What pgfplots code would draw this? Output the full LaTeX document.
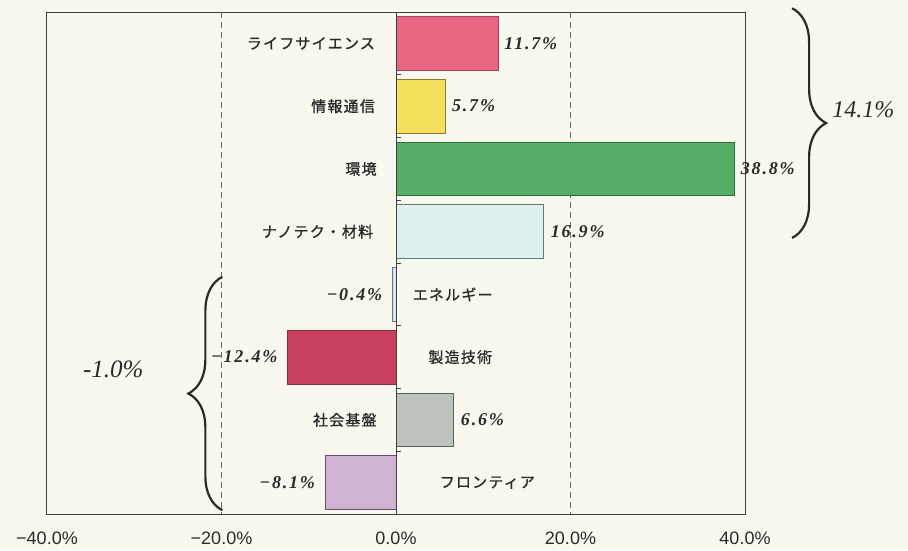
\documentclass[border=0pt]{standalone}
\usepackage{pgfplots}
\pgfplotsset{compat=1.18}
\usepackage{fontspec}
\setmainfont{Liberation Sans}
\newfontfamily\jp{Noto Sans CJK JP}[LetterSpace=8, FakeBold=1]
\newfontfamily\vf{Liberation Serif}[LetterSpace=10]
\newfontfamily\bigf{Liberation Serif}
\usetikzlibrary{decorations.pathreplacing}
\definecolor{bg}{HTML}{F9F8EF}
\definecolor{c1}{HTML}{E96683}\definecolor{e1}{HTML}{A8445A}
\definecolor{c2}{HTML}{F4E05C}\definecolor{e2}{HTML}{8C7C2C}
\definecolor{c3}{HTML}{56AD66}\definecolor{e3}{HTML}{2F6E3C}
\definecolor{c4}{HTML}{DDF1EE}\definecolor{e4}{HTML}{5E7C74}
\definecolor{c5}{HTML}{D8E6EE}\definecolor{e5}{HTML}{60778A}
\definecolor{c6}{HTML}{C93F5F}\definecolor{e6}{HTML}{8E2A40}
\definecolor{c7}{HTML}{BBC3BC}\definecolor{e7}{HTML}{5C665E}
\definecolor{c8}{HTML}{CFB3D2}\definecolor{e8}{HTML}{6A4F6C}
\definecolor{ink}{HTML}{2A2A2A}
\begin{document}
\begin{tikzpicture}
\fill[bg] (-47pt,-36pt) rectangle (861pt,514pt);
\begin{axis}[
  at={(0,0)}, anchor=south west,
  scale only axis, width=698pt, height=502pt,
  xmin=-40, xmax=40, ymin=-0.5, ymax=7.5, y dir=reverse,
  xtick={-40,-20,0,20,40},
  xticklabels={−40.0\%,−20.0\%,0.0\%,20.0\%,40.0\%},
  ytick=\empty, major tick length=0pt,
  extra x ticks={-20,20}, extra x tick labels={},
  extra x tick style={xmajorgrids=true, major tick length=0pt},
  grid style={dash pattern=on 6pt off 4pt, black!60, line width=0.8pt},
  axis line style={line width=1pt, black!75},
  xticklabel style={font=\fontsize{18}{20}\selectfont, text=ink, yshift=-14pt},
  clip=false,
  xbar, bar width=0.86,
  nodes near coords, point meta=explicit symbolic,
  every node near coord/.append style={font=\vf\bfseries\itshape\fontsize{18}{20}\selectfont, text=ink, inner sep=0pt},
]
\addplot[fill=c1, draw=e1, line width=0.8pt, bar shift=0pt, every node near coord/.append style={anchor=west, xshift=6pt}] coordinates {(11.7,0) [11.7\%]};
\addplot[fill=c2, draw=e2, line width=0.8pt, bar shift=0pt, every node near coord/.append style={anchor=west, xshift=6pt}] coordinates {(5.7,1) [5.7\%]};
\addplot[fill=c3, draw=e3, line width=0.8pt, bar shift=0pt, every node near coord/.append style={anchor=west, xshift=6pt}] coordinates {(38.8,2) [38.8\%]};
\addplot[fill=c4, draw=e4, line width=0.8pt, bar shift=0pt, every node near coord/.append style={anchor=west, xshift=7pt}] coordinates {(16.9,3) [16.9\%]};
\addplot[fill=c5, draw=e5, line width=0.8pt, bar shift=0pt, every node near coord/.append style={anchor=east, xshift=-10pt}] coordinates {(-0.4,4) [−0.4\%]};
\addplot[fill=c6, draw=e6, line width=0.8pt, bar shift=0pt, every node near coord/.append style={anchor=east, xshift=-10pt}] coordinates {(-12.4,5) [−12.4\%]};
\addplot[fill=c7, draw=e7, line width=0.8pt, bar shift=0pt, every node near coord/.append style={anchor=west, xshift=7pt}] coordinates {(6.6,6) [6.6\%]};
\addplot[fill=c8, draw=e8, line width=0.8pt, bar shift=0pt, every node near coord/.append style={anchor=east, xshift=-10pt}] coordinates {(-8.1,7) [−8.1\%]};

% zero line with boundary ticks
\draw[black!75, line width=1pt] (axis cs:0,-0.5) -- (axis cs:0,7.5);
\pgfplotsinvokeforeach{0.5,1.5,2.5,3.5,4.5,5.5,6.5}{
  \draw[black!75, line width=0.8pt] (axis cs:0,#1) -- (axis cs:0.6,#1);
}

% category labels
\begin{scope}[every node/.style={font=\jp\fontsize{15}{17}\selectfont, text=ink, inner sep=0pt}]
\node[anchor=east] at (axis cs:-2.4,0) {ライフサイエンス};
\node[anchor=east] at (axis cs:-2.4,1) {情報通信};
\node[anchor=east] at (axis cs:-2.2,2) {環境};
\node[anchor=east] at (axis cs:-2.6,3) {ナノテク・材料};
\node[anchor=west] at (axis cs:1.9,4) {エネルギー};
\node[anchor=west] at (axis cs:3.7,5) {製造技術};
\node[anchor=east] at (axis cs:-2.2,6) {社会基盤};
\node[anchor=west] at (axis cs:5.0,7) {フロンティア};
\end{scope}

% braces
\draw[ink, line width=2.2pt, decorate, decoration={brace, amplitude=34pt}]
  (axis cs:45.4,-0.56) -- (axis cs:45.4,3.10);
\draw[ink, line width=2.2pt, decorate, decoration={brace, amplitude=34pt}]
  (axis cs:-19.9,7.44) -- (axis cs:-19.9,3.72);
\node[anchor=west, inner sep=0pt, font=\bigf\itshape\fontsize{24}{26}\selectfont, text=ink] at (axis cs:50.0,1.05) {14.1\%};
\node[inner sep=0pt, font=\bigf\itshape\fontsize{25}{27}\selectfont, text=ink] at (axis cs:-32.4,5.2) {-1.0\%};
\end{axis}
\pgfresetboundingbox
\path[use as bounding box] (-47pt,-36pt) rectangle (861pt,514pt);
\end{tikzpicture}
\end{document}
